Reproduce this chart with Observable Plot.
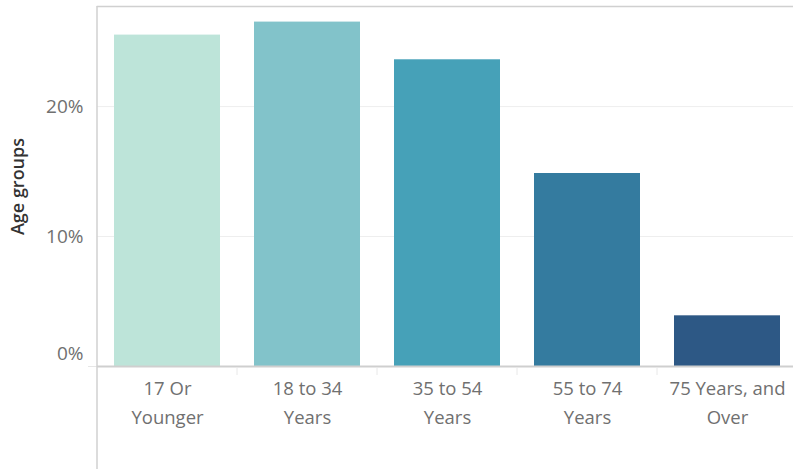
<!DOCTYPE html>
<html><head><meta charset="utf-8">
<script src="https://cdn.jsdelivr.net/npm/d3@7"></script>
<script src="https://cdn.jsdelivr.net/npm/@observablehq/plot@0.6"></script>
<style>html,body{margin:0;padding:0;background:#fff;overflow:hidden} svg{display:block}</style>
</head><body><div id="chart"></div>
<script>
const categories = ["17 Or Younger","18 to 34 Years","35 to 54 Years","55 to 74 Years","75 Years, and Over"];
const tickLabels = ["17 Or\nYounger","18 to 34\nYears","35 to 54\nYears","55 to 74\nYears","75 Years, and\nOver"];
const shares = [25.5, 26.5, 23.6, 14.85, 3.9];
const colors = ["#bde4d9","#82c3ca","#46a1b8","#347b9f","#2d5885"];
const gridTicks = [10, 20];
const zeroTick = [0];
const yTitle = "Age groups";

const data = categories.map((c, i) => ({category: c, share: shares[i]}));
const labelOf = new Map(categories.map((c, i) => [c, tickLabels[i]]));
const FONT = "Open Sans";

const plot = Plot.plot({
  width: 793, height: 469,
  marginLeft: 97, marginRight: -4, marginTop: 6, marginBottom: 103,
  style: {fontFamily: FONT, background: "#fff", overflow: "hidden"},
  x: {domain: categories, paddingInner: 0.243, paddingOuter: 0.121, label: null, axis: null},
  y: {domain: [0, 27.7], label: null, axis: null},
  color: {domain: categories, range: colors},
  marks: [
    Plot.ruleY(gridTicks, {stroke: "#eeeeee", strokeWidth: 1}),
    Plot.barY(data, {x: "category", y: "share", fill: "category"}),
    Plot.frame({anchor: "top", stroke: "#d0d0d0", strokeWidth: 1.5}),
    Plot.ruleY(zeroTick, {stroke: "#cfcfcf", strokeWidth: 2}),
    Plot.axisY(zeroTick, {tickSize: 9, stroke: "#e6e6e6", tickFormat: () => "", tickPadding: 0}),
    Plot.axisY(gridTicks, {tickSize: 0, tickPadding: 14, fontSize: 19, fill: "#707070", tickFormat: d => d + "%", label: null}),
    Plot.axisY(zeroTick, {tickSize: 0, tickPadding: 14, fontSize: 19, fill: "#707070", tickFormat: d => d + "%", dy: -13, label: null}),
    Plot.axisX(categories, {tickSize: 0, tickPadding: 7, fontSize: 18.5, fill: "#707070", lineHeight: 1.6, tickFormat: d => labelOf.get(d), label: null}),
    Plot.text([yTitle], {frameAnchor: "left", textAnchor: "middle", rotate: -90, dx: -79, fontSize: 18, fontWeight: 600, fill: "#333"})
  ]
});

// decorative lines: left axis line extending to the bottom, band separators below the baseline
const svg = d3.select(plot);
const xs = plot.scale("x");
const y0 = plot.scale("y").apply(0);
const left = xs.range[0];
const bandStep = (xs.range[1] - xs.range[0]) / categories.length;
svg.append("line").attr("x1", left).attr("x2", left).attr("y1", 6).attr("y2", 469)
  .attr("stroke", "#d0d0d0").attr("stroke-width", 1.5);
categories.slice(1).forEach((c, i) => {
  const bx = left + (i + 1) * bandStep;
  svg.append("line").attr("x1", bx).attr("x2", bx).attr("y1", y0 + 1).attr("y2", y0 + 9)
    .attr("stroke", "#e8e8e8").attr("stroke-width", 1);
});
document.getElementById("chart").appendChild(plot);
</script>
</body></html>
